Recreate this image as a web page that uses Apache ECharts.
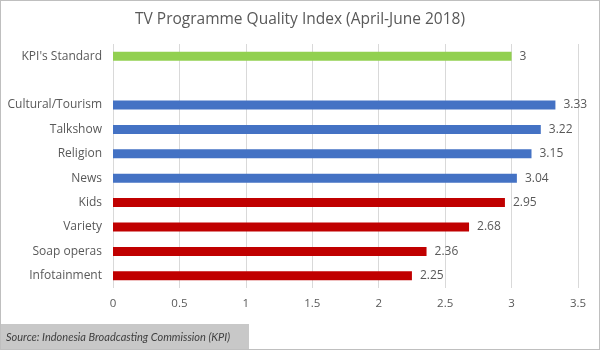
<!DOCTYPE html>
<html><head><meta charset="utf-8">
<script src="https://cdn.jsdelivr.net/npm/echarts@6/dist/echarts.min.js"></script>
<style>html,body{margin:0;padding:0;background:#fff}#c{width:600px;height:350px;box-sizing:border-box;border:1px solid #bfbfbf}</style>
</head><body><div id="c"></div>
<script>
const categories = ["KPI's Standard", "", "Cultural/Tourism", "Talkshow", "Religion", "News", "Kids", "Variety", "Soap operas", "Infotainment"];
const values = [3, null, 3.33, 3.22, 3.15, 3.04, 2.95, 2.68, 2.36, 2.25];
const groups = ["standard", "none", "above", "above", "above", "above", "below", "below", "below", "below"];
const xTicks = [0, 0.5, 1, 1.5, 2, 2.5, 3, 3.5];
const titleText = "TV Programme Quality Index (April-June 2018)";
const sourceText = "Source: Indonesia Broadcasting Commission (KPI)";

const colorMap = { standard: '#92d050', above: '#4472c4', below: '#c00000', none: 'transparent' };
const chart = echarts.init(document.getElementById('c'), null, { renderer: 'canvas' });
chart.setOption({
  animation: false,
  title: { text: titleText, left: 'center', top: 6, textStyle: { fontFamily: 'Open Sans', fontSize: 15.5, fontWeight: 'normal', color: '#595959' } },
  grid: { left: 112, right: 21, top: 43, bottom: 61, containLabel: false },
  xAxis: {
    type: 'value', min: xTicks[0], max: xTicks[xTicks.length - 1], interval: 0.5,
    axisLine: { show: false }, axisTick: { show: false },
    splitLine: { lineStyle: { color: '#d9d9d9', width: 1 } },
    axisLabel: { color: '#595959', fontFamily: 'Open Sans', fontSize: 11.5, margin: 10 }
  },
  yAxis: {
    type: 'category', data: categories, inverse: true,
    axisLine: { show: false }, axisTick: { show: false },
    axisLabel: { color: '#595959', fontFamily: 'Open Sans', fontSize: 12, margin: 11 }
  },
  series: [{
    type: 'bar', data: values, barWidth: 9,
    itemStyle: { color: p => colorMap[groups[p.dataIndex]] },
    label: { show: true, position: 'right', distance: 8, color: '#595959', fontFamily: 'Open Sans', fontSize: 12 }
  }],
  graphic: [{
    type: 'group', left: 0, bottom: 0,
    children: [
      { type: 'rect', shape: { x: 0, y: 0, width: 248, height: 25 }, style: { fill: '#c8c8c8' } },
      { type: 'text', x: 5, y: 13, style: { text: sourceText, fontFamily: 'Lato', fontStyle: 'italic', fontSize: 11, fill: '#404040', verticalAlign: 'middle' } }
    ]
  }]
});
</script></body></html>
